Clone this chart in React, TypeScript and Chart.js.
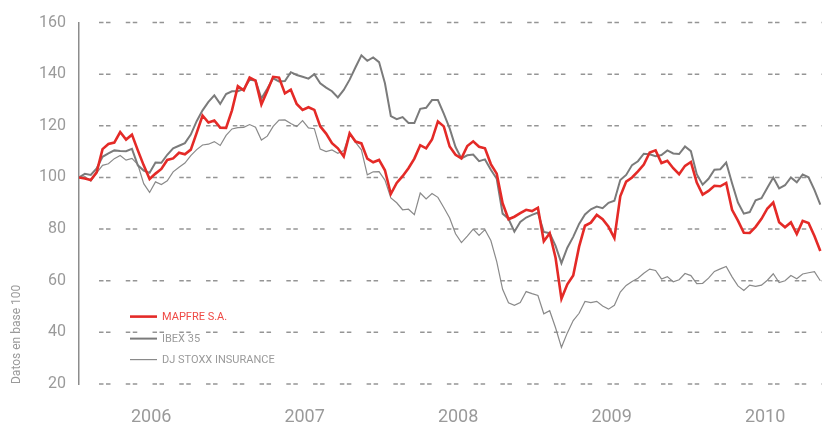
import React, { useEffect, useRef } from "react";
import { Chart, registerables } from "chart.js";

Chart.register(...registerables);

// ---- data ----
const START_DATE = "2006-01-12"; // first observation
const STEP_DAYS = 14; // one observation every two weeks
const END_DATE = "2010-11-15"; // right edge of the time axis
const YEAR_LABELS = [2006, 2007, 2008, 2009, 2010];
const Y_MIN = 20;
const Y_MAX = 160;
const Y_STEP = 20;
const Y_TITLE = "Datos en base 100";
const SERIES_NAMES = ["MAPFRE S.A.", "IBEX 35", "DJ STOXX INSURANCE"];

const MAPFRE = [
  100, 99.6, 99, 102, 111, 113, 113.5, 117.6, 114.7, 116.6,
  110.5, 104.7, 99.4, 101.5, 103.3, 106.8, 107.4, 109.6, 109, 110.8,
  117.3, 124, 121.3, 122.1, 119.3, 119.2, 126, 135.4, 133.8, 138.7,
  137.5, 128.3, 133.5, 139, 138.7, 132.6, 134, 128.5, 126.2, 127.2,
  126.2, 119.8, 117, 113.3, 111.3, 108.1, 117.1, 113.9, 113.2, 107.3,
  105.9, 106.8, 102.8, 93.6, 97.9, 100.5, 103.6, 107.3, 112.5, 111.3,
  114.7, 121.7, 119.8, 112, 108.8, 107.4, 112.2, 114, 111.9, 111.3,
  105.2, 101.5, 90, 83.8, 84.8, 86.2, 87.5, 87, 88.3, 75.3,
  78.4, 68.9, 53, 58.6, 62, 73.2, 81.3, 82.5, 85.5, 83.8,
  80.9, 76.5, 92.7, 98.4, 100, 102.4, 105, 109.7, 110.5, 105.6,
  106.5, 103.6, 101.3, 104.5, 106, 98, 93.4, 94.8, 96.8, 96.6,
  97.9, 87.5, 83.3, 78.6, 78.5, 80.9, 84, 88, 90.3, 82.7,
  80.7, 82.6, 78.1, 83.2, 82.4, 77.3, 71.5,
];

const IBEX = [
  100, 101.4, 101, 103.5, 108, 109.3, 110.5, 110.3, 110.2, 111.1,
  104.7, 102.7, 101.8, 105.8, 105.7, 108.8, 111.3, 112.3, 113.3, 116.6,
  121.8, 126, 129.3, 131.8, 128.5, 132.3, 133.4, 133.4, 134.3, 137.9,
  137.6, 130.6, 134.4, 138.4, 137.2, 137.4, 140.8, 139.7, 139, 138.3,
  140, 136.5, 134.8, 133.4, 131, 133.9, 137.9, 142.7, 147.3, 145.2,
  146.5, 144.7, 136.5, 123.8, 122.6, 123.4, 121.1, 121.1, 126.6, 127,
  130, 130, 124.7, 119, 111.8, 107.4, 108.6, 108.9, 106.3, 107,
  103, 99.5, 86, 84, 79, 82.8, 84.5, 85.5, 86.4, 78.9,
  78.4, 73.5, 66.8, 72.8, 77, 82, 85.7, 87.7, 88.7, 88.1,
  90.2, 91, 99, 101, 104.8, 106.3, 109.2, 109, 108.2, 108.7,
  110.5, 109.3, 109.1, 112, 110.2, 101.3, 97.2, 99.5, 103, 103.2,
  105.8, 97.8, 90.3, 86, 86.6, 91.2, 92, 96, 100, 95.8,
  97, 100, 98.1, 101.2, 100.1, 95.2, 89.5,
];

const DJ_STOXX = [
  100, 100.3, 98.6, 101.8, 104.7, 105.3, 107.3, 108.5, 106.7, 107.4,
  105, 97.6, 94.2, 98.3, 97.3, 98.7, 102.2, 104, 105.6, 108.5,
  110.8, 112.6, 112.9, 113.9, 112.4, 116.3, 118.8, 119.3, 119.4, 120.5,
  119.5, 114.5, 116, 119.8, 122.2, 122.3, 120.9, 119.7, 122, 119.2,
  118.9, 111, 110, 110.7, 109.4, 110.4, 117, 113.6, 110.7, 101,
  102.2, 102.3, 99, 92.1, 90.2, 87.5, 87.7, 85.6, 94, 91.7,
  93.8, 92.3, 88.4, 84.3, 78.2, 74.8, 77.3, 80, 77.6, 79.8,
  75.6, 67.4, 56.7, 51.5, 50.5, 51.6, 55.8, 55, 54.3, 47.2,
  48.4, 41.8, 34.2, 39.8, 44.6, 47.4, 52, 51.5, 52, 50.2,
  49, 50.5, 55.6, 58.2, 59.7, 61, 62.9, 64.5, 64, 60.7,
  61.6, 59.6, 60.4, 62.8, 62, 58.9, 59, 61, 63.6, 64.6,
  65.5, 61.5, 58, 56.2, 58.3, 57.8, 58.3, 60.2, 62.7, 59.3,
  60, 62, 60.8, 62.6, 63.1, 63.5, 60,
];

// ---- helpers ----
const DAY = 86400000;
const YEAR_MS = 365.25 * DAY;
const BASE = Date.UTC(2006, 0, 1);
const parse = (s: string) => {
  const [y, m, d] = s.split("-").map(Number);
  return Date.UTC(y, m - 1, d);
};
const toYear = (ms: number) => 2006 + (ms - BASE) / YEAR_MS;
const START_MS = parse(START_DATE);
const X_VALUES = MAPFRE.map((_, i) => toYear(START_MS + i * STEP_DAYS * DAY));
const pts = (vals: number[]) => vals.map((v, i) => ({ x: X_VALUES[i], y: v }));

const RED = "#e42a27";
const GRAY_DARK = "#7b7b7b";
const GRAY_LIGHT = "#8a8a8a";
const TEXT_GRAY = "#9a9a9a";
const FONT = "Roboto";

const dashedGrid = {
  id: "dashedGrid",
  beforeDatasetsDraw(chart: any) {
    const { ctx, chartArea, scales } = chart;
    const y = scales.y;
    ctx.save();
    ctx.strokeStyle = "#959595";
    ctx.lineWidth = 1.5;
    ctx.setLineDash([4.5, 2.5, 4.5, 15.26]);
    y.ticks.forEach((t: any) => {
      const py = y.getPixelForValue(t.value);
      ctx.beginPath();
      ctx.moveTo(chartArea.left + 20, py);
      ctx.lineTo(chartArea.right, py);
      ctx.stroke();
    });
    ctx.restore();
  },
};

const innerLegend = {
  id: "innerLegend",
  afterDatasetsDraw(chart: any) {
    const { ctx, chartArea } = chart;
    const styles = [
      { line: RED, width: 2.6, text: "#ef4a45" },
      { line: GRAY_DARK, width: 2, text: TEXT_GRAY },
      { line: GRAY_LIGHT, width: 1.2, text: TEXT_GRAY },
    ];
    const x0 = chartArea.left + 51;
    const rows = [294, 316, 337];
    ctx.save();
    ctx.font = `11px ${FONT}`;
    ctx.textBaseline = "middle";
    ctx.textAlign = "left";
    SERIES_NAMES.forEach((name, i) => {
      const yy = chartArea.top + rows[i];
      ctx.strokeStyle = styles[i].line;
      ctx.lineWidth = styles[i].width;
      ctx.beginPath();
      ctx.moveTo(x0, yy);
      ctx.lineTo(x0 + 27, yy);
      ctx.stroke();
      ctx.fillStyle = styles[i].text;
      ctx.fillText(name, x0 + 32, yy + 0.5);
    });
    ctx.restore();
  },
};

export default function App() {
  const ref = useRef<HTMLCanvasElement | null>(null);

  useEffect(() => {
    document.body.style.margin = "0";
    if (!ref.current) return;
    const yTicks: number[] = [];
    for (let v = Y_MIN; v <= Y_MAX; v += Y_STEP) yTicks.push(v);

    const chart = new Chart(ref.current, {
      type: "line",
      data: {
        datasets: [
          {
            label: SERIES_NAMES[0],
            data: pts(MAPFRE),
            borderColor: RED,
            borderWidth: 2.6,
            pointRadius: 0,
            tension: 0,
          },
          {
            label: SERIES_NAMES[1],
            data: pts(IBEX),
            borderColor: GRAY_DARK,
            borderWidth: 2,
            pointRadius: 0,
            tension: 0,
          },
          {
            label: SERIES_NAMES[2],
            data: pts(DJ_STOXX),
            borderColor: GRAY_LIGHT,
            borderWidth: 1.2,
            pointRadius: 0,
            tension: 0,
          },
        ],
      },
      options: {
        animation: false,
        responsive: false,
        devicePixelRatio: 1,
        layout: { padding: { top: 16.7, right: 0, left: 0, bottom: 0 } },
        plugins: {
          legend: { display: false },
          tooltip: { enabled: false },
        },
        scales: {
          x: {
            type: "linear",
            min: X_VALUES[0],
            max: toYear(parse(END_DATE)),
            afterFit: (s: any) => {
              s.height = 42;
            },
            afterBuildTicks: (s: any) => {
              s.ticks = YEAR_LABELS.map((y) => ({ value: y + 0.5 }));
            },
            ticks: {
              autoSkip: false,
              maxRotation: 0,
              padding: 15,
              color: TEXT_GRAY,
              font: { family: FONT, size: 18 },
              callback: (v: any) => String(Math.floor(Number(v))),
            },
            grid: { display: false },
            border: { display: false },
          },
          y: {
            min: Y_MIN,
            max: Y_MAX,
            afterFit: (s: any) => {
              s.width = 79;
            },
            afterBuildTicks: (s: any) => {
              s.ticks = yTicks.map((v) => ({ value: v }));
            },
            ticks: {
              padding: 13,
              color: TEXT_GRAY,
              font: { family: FONT, size: 16 },
            },
            grid: { drawOnChartArea: false, drawTicks: false },
            border: { display: true, color: "#8c8c8c", width: 1.5 },
            title: {
              display: true,
              text: Y_TITLE,
              align: "start",
              color: TEXT_GRAY,
              font: { family: FONT, size: 12 },
              padding: { top: 10, bottom: 0 },
            },
          },
        },
      },
      plugins: [dashedGrid, innerLegend],
    } as any);
    return () => chart.destroy();
  }, []);

  return (
    <div style={{ width: 822, height: 426 }}>
      <canvas ref={ref} width={822} height={426} />
    </div>
  );
}
